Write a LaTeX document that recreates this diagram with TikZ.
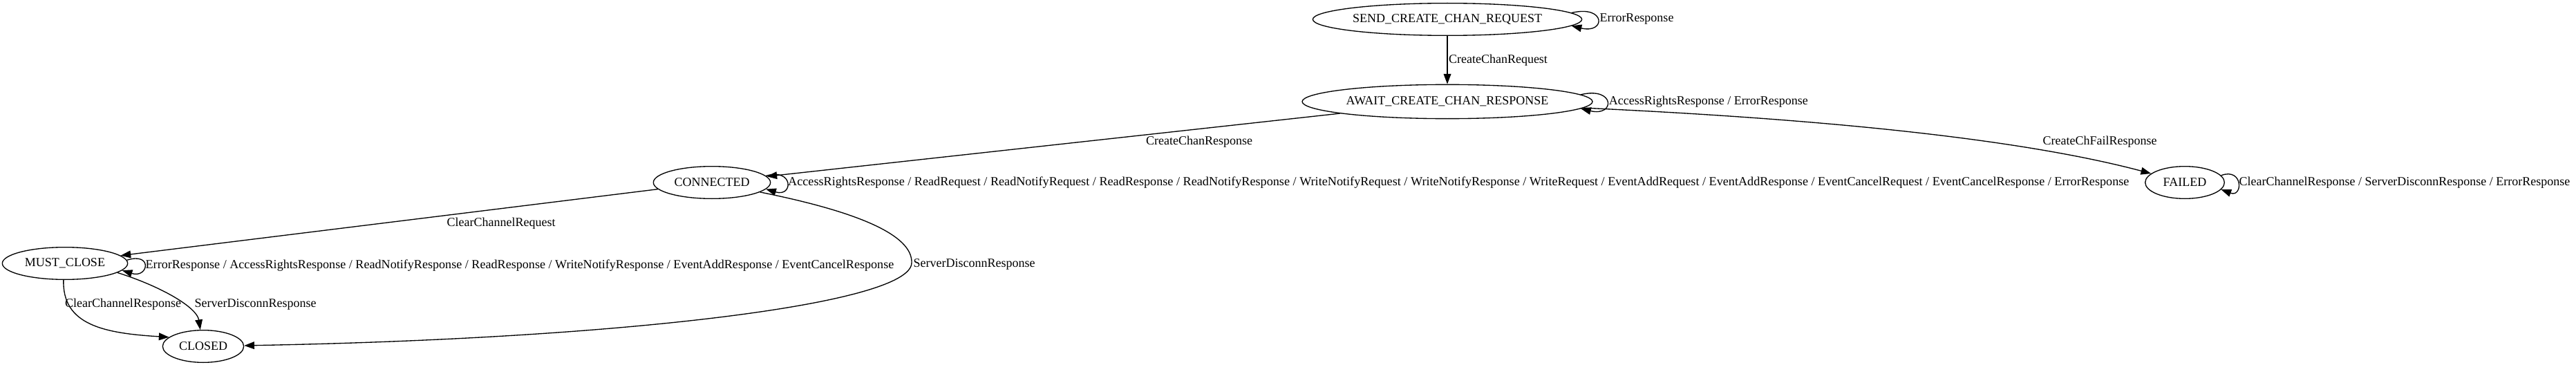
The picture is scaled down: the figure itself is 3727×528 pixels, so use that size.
\documentclass[tikz,border=0pt]{standalone}
\usepackage{fontspec}
\usepackage{graphicx}
\setmainfont{Liberation Serif}
\usetikzlibrary{shapes.geometric,arrows.meta}
\tikzset{
  state/.style={ellipse, draw, line width=1pt, inner sep=0pt, minimum height=35pt},
  lbl/.style={inner sep=0pt}
}
\begin{document}
\begin{tikzpicture}[x=0.75pt, y=-0.75pt, >={Triangle[length=11pt,width=8pt]}, line width=1pt, font=\fontsize{13.5}{16}\selectfont]
        \useasboundingbox (0,0) rectangle (3727,528);
        %draw nodes by coordinates
        \node[state, minimum width=292pt] (n00) at (2094,28) {SEND\_CREATE\_CHAN\_REQUEST};
        \node[state, minimum width=315pt, minimum height=37pt] (n10) at (2094,147) {AWAIT\_CREATE\_CHAN\_RESPONSE};
        \node[state, minimum width=127pt] (n21) at (1030,264) {CONNECTED};
        \node[state, minimum width=86pt] (n22) at (3161,264) {FAILED};
        \node[state, minimum width=136pt] (n31) at (94,381) {MUST\_CLOSE};
        \node[state, minimum width=88pt] (n41) at (294,501) {CLOSED};

        % Draw edges (links)
        \draw[->] (n00.3) .. controls +(50,-12) and +(50,12) .. (n00.-3)
          node[lbl, pos=0.5, anchor=west, xshift=2pt] (e00) {ErrorResponse};
        \draw[->] (n00) -- (n10)
          node[lbl, midway, anchor=west, xshift=1pt] (e01) {CreateChanRequest};
        \draw[->] (n10.3) .. controls +(50,-12) and +(50,12) .. (n10.-3)
          node[lbl, pos=0.5, anchor=west, xshift=2pt] (e10) {AccessRightsResponse / ErrorResponse};
        \draw[->] (n10) -- (n21);
        \draw[->] (n10) .. controls (2700,175) and (2950,208) .. (n22);
        \draw[->] (n21.7) .. controls +(40,-12) and +(40,12) .. (n21.-7)
          node[lbl, pos=0.5, anchor=west, xshift=1pt] (e21) {\resizebox{1455pt}{\height}{AccessRightsResponse / ReadRequest / ReadNotifyRequest / ReadResponse / ReadNotifyResponse / WriteNotifyRequest / WriteNotifyResponse / WriteRequest / EventAddRequest / EventAddResponse / EventCancelRequest / EventCancelResponse / ErrorResponse}};
        \draw[->] (n22.11) .. controls +(32,-12) and +(32,12) .. (n22.-11)
          node[lbl, pos=0.5, anchor=west, xshift=1pt] (e22) {ClearChannelResponse / ServerDisconnResponse / ErrorResponse};
        \draw[->] (n21) -- (n31.8);
        \draw[->] (n21) .. controls (1260,310) and (1320,345) .. (1319,380)
          .. controls (1319,440) and (900,490) .. (n41);
        \draw[->] (n31.3) .. controls +(38,-12) and +(38,12) .. (n31.-7)
          node[lbl, pos=0.5, anchor=west, xshift=1pt] (e31) {\resizebox{812pt}{\height}{ErrorResponse / AccessRightsResponse / ReadNotifyResponse / ReadResponse / WriteNotifyResponse / EventAddResponse / EventCancelResponse}};
        \draw[->] (n31.265) .. controls (90,470) and (150,482) .. (n41.165);
        \draw[->] (n31.-10) .. controls (235,415) and (285,445) .. (n41.100);

        % edge labels off the lines
        \node[lbl] (e12) at (1735,205) {CreateChanResponse};
        \node[lbl] (e13) at (3038,205) {CreateChFailResponse};
        \node[lbl] (e23) at (725,323) {ClearChannelRequest};
        \node[lbl, anchor=west] (e24) at (1321,382) {ServerDisconnResponse};
        \node[lbl] (e34) at (178,440) {ClearChannelResponse};
        \node[lbl, anchor=west] (e35) at (281,440) {ServerDisconnResponse};
    \end{tikzpicture}
\end{document}
